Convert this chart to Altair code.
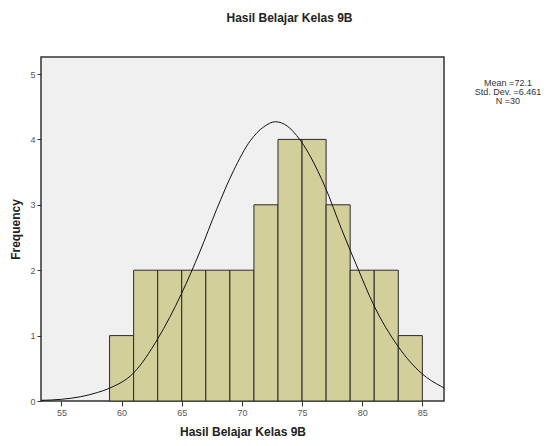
import altair as alt
import pandas as pd

# Histogram bins (lower edge, upper edge) and frequencies
bin_start = [59, 61, 63, 65, 67, 69, 71, 73, 75, 77, 79, 81, 83]
bin_end = [61, 63, 65, 67, 69, 71, 73, 75, 77, 79, 81, 83, 85]
freq = [1, 2, 2, 2, 2, 2, 3, 4, 4, 3, 2, 2, 1]

# Normal curve points
curve_x = [53.3, 55, 56.6, 58.0, 59.05, 61.0, 63, 65, 66.5, 67.9, 69.3, 70.7, 71.8, 72.8,
           73.8, 74.55, 76.9, 78.3, 79.7, 80.9, 83.0, 84.95, 86.6, 86.8]
curve_y = [0.01, 0.026, 0.066, 0.13, 0.2, 0.43, 0.95, 1.65, 2.28, 2.93, 3.52, 3.98, 4.19, 4.27,
           4.2, 4.06, 3.28, 2.62, 2.0, 1.49, 0.83, 0.42, 0.22, 0.2]

stats_text = ["Mean =72.1", "Std. Dev. =6.461", "N =30"]

x_ticks = [55, 60, 65, 70, 75, 80, 85]
y_ticks = [0, 1, 2, 3, 4, 5]

bars_df = pd.DataFrame({"start": bin_start, "end": bin_end, "freq": freq})
curve_df = pd.DataFrame({"x": curve_x, "y": curve_y})
stats_df = pd.DataFrame({"t": ["\n".join(stats_text)]})

FONT = "Liberation Sans"

xscale = alt.Scale(domain=[53.3, 86.8], nice=False, zero=False)
yscale = alt.Scale(domain=[0, 5.26], nice=False)

bars = alt.Chart(bars_df).mark_rect(
    fill="#D3CF9B", stroke="#2a2a2a", strokeWidth=1, opacity=1
).encode(
    x=alt.X("start:Q", scale=xscale,
            axis=alt.Axis(values=x_ticks, title="Hasil Belajar Kelas 9B", grid=False,
                          domain=False, tickSize=5, tickColor="#333", labelColor="#555",
                          labelFontSize=9, labelFont=FONT, labelPadding=2, format="d",
                          titleFont=FONT, titleFontSize=12, titleFontWeight="bold",
                          titleColor="#222", titlePadding=9)),
    x2="end:Q",
    y=alt.Y("freq:Q", scale=yscale,
            axis=alt.Axis(values=y_ticks, title="Frequency", grid=False,
                          domain=False, tickSize=4, tickColor="#333", labelColor="#555",
                          labelFontSize=9, labelFont=FONT, labelPadding=2, format="d",
                          titleFont=FONT, titleFontSize=12, titleFontWeight="bold",
                          titleColor="#222", titlePadding=7)),
    y2=alt.datum(0),
)

curve = alt.Chart(curve_df).mark_line(
    color="#111", strokeWidth=1, interpolate="monotone", clip=True
).encode(
    x=alt.X("x:Q", scale=xscale),
    y=alt.Y("y:Q", scale=yscale),
)

stats = alt.Chart(stats_df).mark_text(
    font=FONT, fontSize=9, color="#333", align="center", baseline="top",
    lineBreak="\n", lineHeight=9
).encode(
    x=alt.value(467),
    y=alt.value(22),
    text="t:N",
)

chart = alt.layer(bars, curve, stats).properties(
    width=403,
    height=344,
    title=alt.TitleParams("Hasil Belajar Kelas 9B", font=FONT, fontSize=12,
                          fontWeight="bold", color="#222", anchor="middle",
                          dx=47, offset=32),
    autosize=alt.AutoSizeParams(type="none"),
    padding={"left": 33, "top": 49, "right": 99, "bottom": 37},
).configure_view(
    fill="#F0F0F0", stroke="#333", strokeWidth=1.5
)

chart.save("out.html", embed_options={"renderer": "svg", "actions": False})
